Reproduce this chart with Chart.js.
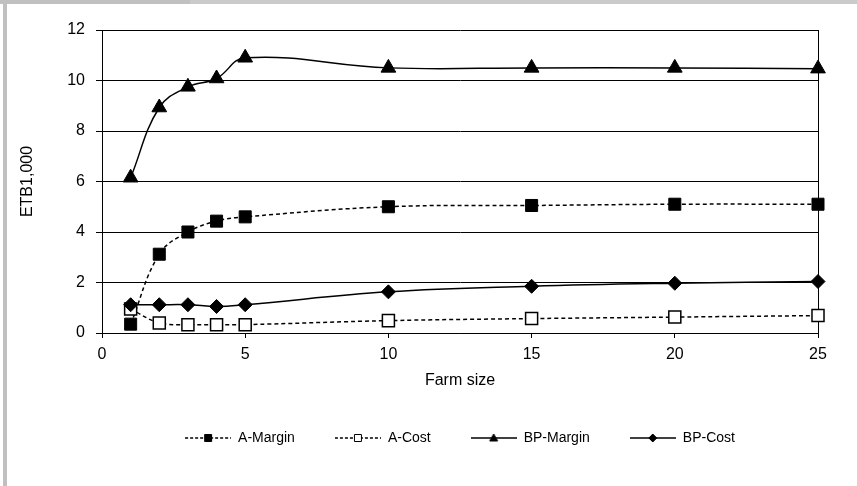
<!DOCTYPE html>
<html lang="en">
<head>
    <meta charset="UTF-8">
    <title>Farm size vs ETB1,000</title>
    <script src="https://cdn.jsdelivr.net/npm/chart.js"></script>
    <style>
        body { margin: 0; background: #fff; }
        #wrap { position: relative; width: 857px; height: 486px; }
        .band { position: absolute; }
    </style>
</head>
<body>
    <div id="wrap">
        <canvas id="farmChart" width="857" height="486"></canvas>
        <div class="band" style="left:0;top:0;width:190px;height:4px;background:#c0c0c0"></div>
        <div class="band" style="left:190px;top:0;width:667px;height:4px;background:#cacaca"></div>
        <div class="band" style="left:3px;top:0;width:4px;height:486px;background:#c0c0c0"></div>
    </div>

    <script>
        // values
        const farmSize = [1, 2, 3, 4, 5, 10, 15, 20, 25];
        const aMargin = [0.35, 3.12, 4.0, 4.43, 4.6, 5.0, 5.05, 5.1, 5.1];
        const aCost = [0.95, 0.4, 0.33, 0.33, 0.33, 0.49, 0.57, 0.63, 0.69];
        const bpMargin = [6.15, 8.93, 9.75, 10.08, 10.9, 10.5, 10.5, 10.5, 10.47];
        const bpCost = [1.12, 1.12, 1.12, 1.05, 1.12, 1.63, 1.85, 1.97, 2.04];
        const seriesNames = ["A-Margin", "A-Cost", "BP-Margin", "BP-Cost"];

        function toPoints(values) {
            return values.map((v, i) => ({ x: farmSize[i], y: v }));
        }

        // little line+marker pictures for the legend
        function legendSample(dashed, marker, filled) {
            const c = document.createElement("canvas");
            c.width = 46;
            c.height = 14;
            const g = c.getContext("2d");
            g.strokeStyle = "#000";
            g.lineWidth = 1.5;
            g.setLineDash(dashed ? [3, 2] : []);
            g.beginPath();
            g.moveTo(0, 7);
            g.lineTo(46, 7);
            g.stroke();
            g.setLineDash([]);
            g.fillStyle = filled ? "#000" : "#fff";
            g.lineWidth = 1;
            g.beginPath();
            if (marker === "rect") {
                g.rect(19.5, 3.5, 7, 7);
            } else if (marker === "triangle") {
                g.moveTo(23, 3);
                g.lineTo(27, 10);
                g.lineTo(19, 10);
                g.closePath();
            } else {
                g.moveTo(23, 3);
                g.lineTo(27, 7);
                g.lineTo(23, 11);
                g.lineTo(19, 7);
                g.closePath();
            }
            g.fill();
            g.stroke();
            return c;
        }

        const samples = [
            legendSample(true, "rect", true),
            legendSample(true, "rect", false),
            legendSample(false, "triangle", true),
            legendSample(false, "diamond", true)
        ];

        Chart.defaults.font.family = "'Liberation Sans', Arial, sans-serif";
        Chart.defaults.font.size = 16;
        Chart.defaults.color = "#000";

        const ctx = document.getElementById("farmChart").getContext("2d");
        new Chart(ctx, {
            type: "line",
            data: {
                datasets: [{
                    label: seriesNames[0],
                    data: toPoints(aMargin),
                    borderColor: "#000",
                    borderWidth: 1.5,
                    borderDash: [4, 3],
                    pointStyle: "rect",
                    pointRadius: 8.5,
                    pointBackgroundColor: "#000",
                    pointBorderColor: "#000",
                    pointBorderWidth: 1,
                    order: 4
                }, {
                    label: seriesNames[1],
                    data: toPoints(aCost),
                    borderColor: "#000",
                    borderWidth: 1.5,
                    borderDash: [4, 3],
                    pointStyle: "rect",
                    pointRadius: 8.5,
                    pointBackgroundColor: "#fff",
                    pointBorderColor: "#000",
                    pointBorderWidth: 1.5,
                    order: 3
                }, {
                    label: seriesNames[2],
                    data: toPoints(bpMargin),
                    borderColor: "#000",
                    borderWidth: 1.5,
                    pointStyle: "triangle",
                    pointRadius: 8.5,
                    pointBackgroundColor: "#000",
                    pointBorderColor: "#000",
                    pointBorderWidth: 1,
                    order: 2
                }, {
                    label: seriesNames[3],
                    data: toPoints(bpCost),
                    borderColor: "#000",
                    borderWidth: 1.5,
                    pointStyle: "rectRot",
                    pointRadius: 7,
                    pointBackgroundColor: "#000",
                    pointBorderColor: "#000",
                    pointBorderWidth: 1,
                    order: 1
                }]
            },
            options: {
                responsive: false,
                animation: false,
                devicePixelRatio: 1,
                datasets: {
                    line: { tension: 0.4, clip: false, fill: false }
                },
                layout: {
                    padding: { left: 7, top: 30, right: 39, bottom: 31 }
                },
                plugins: {
                    tooltip: { enabled: false },
                    legend: {
                        position: "bottom",
                        fullSize: false,
                        labels: {
                            usePointStyle: true,
                            pointStyleWidth: 46,
                            padding: 40,
                            color: "#000",
                            font: { family: "'Liberation Sans Narrow', 'Liberation Sans', sans-serif", size: 14 },
                            generateLabels: chart => chart.data.datasets.map((ds, i) => ({
                                text: ds.label,
                                pointStyle: samples[i],
                                fillStyle: "#000",
                                strokeStyle: "#000",
                                lineWidth: 0,
                                hidden: false,
                                datasetIndex: i
                            }))
                        }
                    }
                },
                scales: {
                    x: {
                        type: "linear",
                        min: 0,
                        max: 25,
                        ticks: { stepSize: 5, padding: 7, color: "#000" },
                        grid: {
                            color: c => (c.tick && c.tick.value === 25 ? "#000" : "rgba(0,0,0,0)"),
                            tickColor: "#000",
                            tickLength: 5,
                            lineWidth: 1
                        },
                        border: { display: true, color: "#000", width: 1 },
                        title: { display: true, text: "Farm size", padding: { top: 0, bottom: 1 } },
                        afterFit: scale => { scale.height = 58; }
                    },
                    y: {
                        min: 0,
                        max: 12,
                        ticks: { stepSize: 2, padding: 11, color: "#000" },
                        grid: { color: "#000", tickColor: "#000", tickLength: 6, lineWidth: 1 },
                        border: { display: true, color: "#000", width: 1 },
                        title: { display: true, text: "ETB1,000", padding: { top: 11, bottom: 0 } },
                        afterFit: scale => { scale.width = 95; }
                    }
                }
            }
        });
    </script>
</body>
</html>
